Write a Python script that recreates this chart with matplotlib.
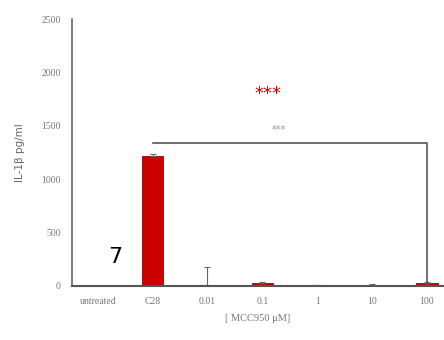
import matplotlib
matplotlib.use("Agg")
import matplotlib.pyplot as plt

categories = ["untreated", "C28", "0.01", "0.1", "1", "10", "100"]
values = [0, 1220, 10, 30, 8, 12, 25]
errors = [0, 15, 170, 10, 4, 5, 15]
bracket_y = 1340

fig = plt.figure(figsize=(4.44, 3.4), dpi=100)
ax = fig.add_axes([0.162, 0.159, 0.838, 0.785])

x = list(range(len(categories)))
ax.bar(x, values, width=0.39, color="#cc0000", edgecolor="#a00000", linewidth=0.6)
ax.errorbar(x, values, yerr=[[0] * len(errors), errors], fmt="none",
            ecolor="#666666", elinewidth=0.8, capsize=2, capthick=0.8)

# significance bracket from C28 to 100
ax.plot([1, 6, 6], [bracket_y, bracket_y, 0], color="#555555", lw=1.2)
ax.text(3.3, bracket_y + 70, "***", color="#999999", fontsize=7, ha="center", va="bottom")
ax.text(3.1, 1800, "***", color="#cc0000", fontsize=13, ha="center", va="center")
ax.text(0.32, 270, "7", color="black", fontsize=16, ha="center", va="center")

ax.set_xlim(-0.47, 6.31)
ax.set_ylim(0, 2500)
ax.set_yticks([0, 500, 1000, 1500, 2000, 2500])
ax.set_xticks(x)
ax.set_xticklabels(categories)
ax.tick_params(length=0, labelsize=7, labelcolor="#777777", pad=8)
for lab in ax.get_yticklabels() + ax.get_xticklabels():
    lab.set_family("Liberation Serif")

for s in ["top", "right"]:
    ax.spines[s].set_visible(False)
ax.spines["left"].set_color("#666666")
ax.spines["bottom"].set_color("#555555")
ax.spines["left"].set_linewidth(1.2)
ax.spines["bottom"].set_linewidth(1.5)

ax.set_ylabel("IL-1β pg/ml", fontsize=7.5, color="#666666", labelpad=12)
ax.set_xlabel("[ MCC950 μM]", fontsize=7.5, color="#777777", labelpad=6, family="Liberation Serif")

fig.savefig("out.png", dpi=100)
